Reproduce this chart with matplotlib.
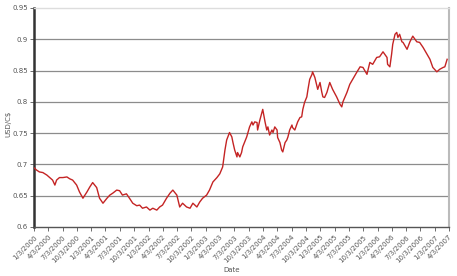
import numpy as np
import pandas as pd
import matplotlib
matplotlib.use("Agg")
import matplotlib.pyplot as plt

# decimal year of each reading
years = [
    2000.00, 2000.05, 2000.10, 2000.16, 2000.23, 2000.28, 2000.33, 2000.37, 2000.40, 2000.45,
    2000.51, 2000.58, 2000.63, 2000.68, 2000.75, 2000.80, 2000.86, 2000.93, 2000.98, 2001.03,
    2001.10, 2001.15, 2001.21, 2001.28, 2001.33, 2001.38, 2001.45, 2001.50, 2001.55, 2001.62,
    2001.68, 2001.73, 2001.80, 2001.85, 2001.90, 2001.97, 2002.03, 2002.08, 2002.15, 2002.20,
    2002.25, 2002.32, 2002.38, 2002.43, 2002.50, 2002.55, 2002.60, 2002.67, 2002.73, 2002.78,
    2002.85, 2002.90, 2002.95, 2003.02, 2003.07, 2003.13, 2003.20, 2003.25, 2003.30, 2003.34,
    2003.37, 2003.39, 2003.42, 2003.46, 2003.48, 2003.51, 2003.55, 2003.56, 2003.60, 2003.63,
    2003.65, 2003.72, 2003.77, 2003.81, 2003.83, 2003.86, 2003.90, 2003.91, 2003.95, 2004.00,
    2004.04, 2004.07, 2004.09, 2004.12, 2004.16, 2004.18, 2004.21, 2004.25, 2004.26, 2004.30,
    2004.33, 2004.35, 2004.39, 2004.42, 2004.44, 2004.47, 2004.51, 2004.52, 2004.56, 2004.59,
    2004.61, 2004.65, 2004.68, 2004.70, 2004.73, 2004.77, 2004.79, 2004.82, 2004.86, 2004.87,
    2004.91, 2004.94, 2004.96, 2005.00, 2005.03, 2005.05, 2005.08, 2005.12, 2005.17, 2005.22,
    2005.29, 2005.35, 2005.38, 2005.40, 2005.47, 2005.52, 2005.57, 2005.64, 2005.70, 2005.75,
    2005.82, 2005.87, 2005.92, 2005.99, 2006.04, 2006.10, 2006.17, 2006.18, 2006.22, 2006.25,
    2006.27, 2006.31, 2006.34, 2006.36, 2006.39, 2006.43, 2006.45, 2006.52, 2006.57, 2006.62,
    2006.69, 2006.74, 2006.80, 2006.87, 2006.92, 2006.97, 2007.04, 2007.09, 2007.15, 2007.18,
    2007.22,
]

usd_per_cad = [
    0.695, 0.691, 0.688, 0.687, 0.683, 0.679, 0.675, 0.667, 0.675, 0.679,
    0.679, 0.680, 0.677, 0.675, 0.667, 0.656, 0.646, 0.656, 0.664, 0.671,
    0.663, 0.646, 0.638, 0.646, 0.651, 0.654, 0.659, 0.658, 0.651, 0.653,
    0.645, 0.638, 0.634, 0.635, 0.630, 0.632, 0.627, 0.630, 0.627, 0.632,
    0.635, 0.646, 0.654, 0.659, 0.651, 0.632, 0.638, 0.632, 0.630, 0.638,
    0.632, 0.640, 0.646, 0.651, 0.659, 0.672, 0.679, 0.685, 0.696, 0.723,
    0.739, 0.744, 0.751, 0.744, 0.735, 0.723, 0.712, 0.719, 0.712, 0.719,
    0.728, 0.744, 0.760, 0.768, 0.763, 0.768, 0.767, 0.755, 0.771, 0.788,
    0.768, 0.755, 0.760, 0.747, 0.755, 0.751, 0.760, 0.755, 0.743, 0.735,
    0.723, 0.720, 0.735, 0.739, 0.744, 0.755, 0.763, 0.759, 0.755, 0.763,
    0.768, 0.775, 0.776, 0.788, 0.799, 0.808, 0.820, 0.836, 0.844, 0.848,
    0.839, 0.828, 0.820, 0.831, 0.816, 0.808, 0.807, 0.815, 0.831, 0.820,
    0.808, 0.796, 0.792, 0.800, 0.815, 0.828, 0.836, 0.847, 0.856, 0.855,
    0.844, 0.863, 0.860, 0.871, 0.872, 0.880, 0.871, 0.860, 0.856, 0.876,
    0.892, 0.908, 0.911, 0.903, 0.908, 0.896, 0.895, 0.884, 0.896, 0.905,
    0.896, 0.895, 0.887, 0.876, 0.868, 0.855, 0.848, 0.852, 0.855, 0.856,
    0.868,
]

tick_labels = [f"{m}/3/{y}" for y in range(2000, 2008) for m in (1, 4, 7, 10)][:30]
y_ticks = [0.6, 0.65, 0.7, 0.75, 0.8, 0.85, 0.9, 0.95]
y_labels = ["0.6", "0.65", "0.7", "0.75", "0.8", "0.85", "0.9", "0.95"]

yr = np.array(years)
dates = pd.Timestamp("2000-01-01") + pd.to_timedelta((yr - 2000) * 365.25, unit="D")
tick_dates = pd.to_datetime(tick_labels, format="%m/%d/%Y")

fig = plt.figure(figsize=(4.57, 2.76), dpi=100)
ax = fig.add_axes([34 / 457, 1 - 227 / 276, (449 - 34) / 457, (227 - 8) / 276])

# horizontal gridlines
for v in y_ticks[1:-1]:
    ax.axhline(v, color="#8c8c8c", lw=0.9, zorder=1)

ax.plot(dates, usd_per_cad, color="#c42424", lw=1.0, zorder=3)

ax.set_ylim(0.6, 0.95)
ax.set_xlim(tick_dates[0], tick_dates[-1])
ax.set_yticks(y_ticks)
ax.set_yticklabels(y_labels)
ax.set_xticks(tick_dates)
ax.set_xticklabels(tick_labels, rotation=45, ha="right", rotation_mode="anchor")
ax.tick_params(axis="both", labelsize=5, colors="#555555", length=3, width=0.6, pad=1.5)
ax.tick_params(axis="x", pad=2)

ax.spines["left"].set_color("#333333")
ax.spines["left"].set_linewidth(1.8)
ax.spines["bottom"].set_color("#555555")
ax.spines["bottom"].set_linewidth(1.0)
ax.spines["right"].set_color("#bbbbbb")
ax.spines["right"].set_linewidth(1.5)
ax.spines["top"].set_color("#dddddd")
ax.spines["top"].set_linewidth(1.0)

fig.text(0.018, 0.55, "USD/C$", rotation=90, fontsize=5, color="#555555", ha="center", va="center")
fig.text(232 / 457, 1 - 270 / 276, "Date", fontsize=5, color="#555555", ha="center", va="center")

fig.savefig("out.png", dpi=100)
